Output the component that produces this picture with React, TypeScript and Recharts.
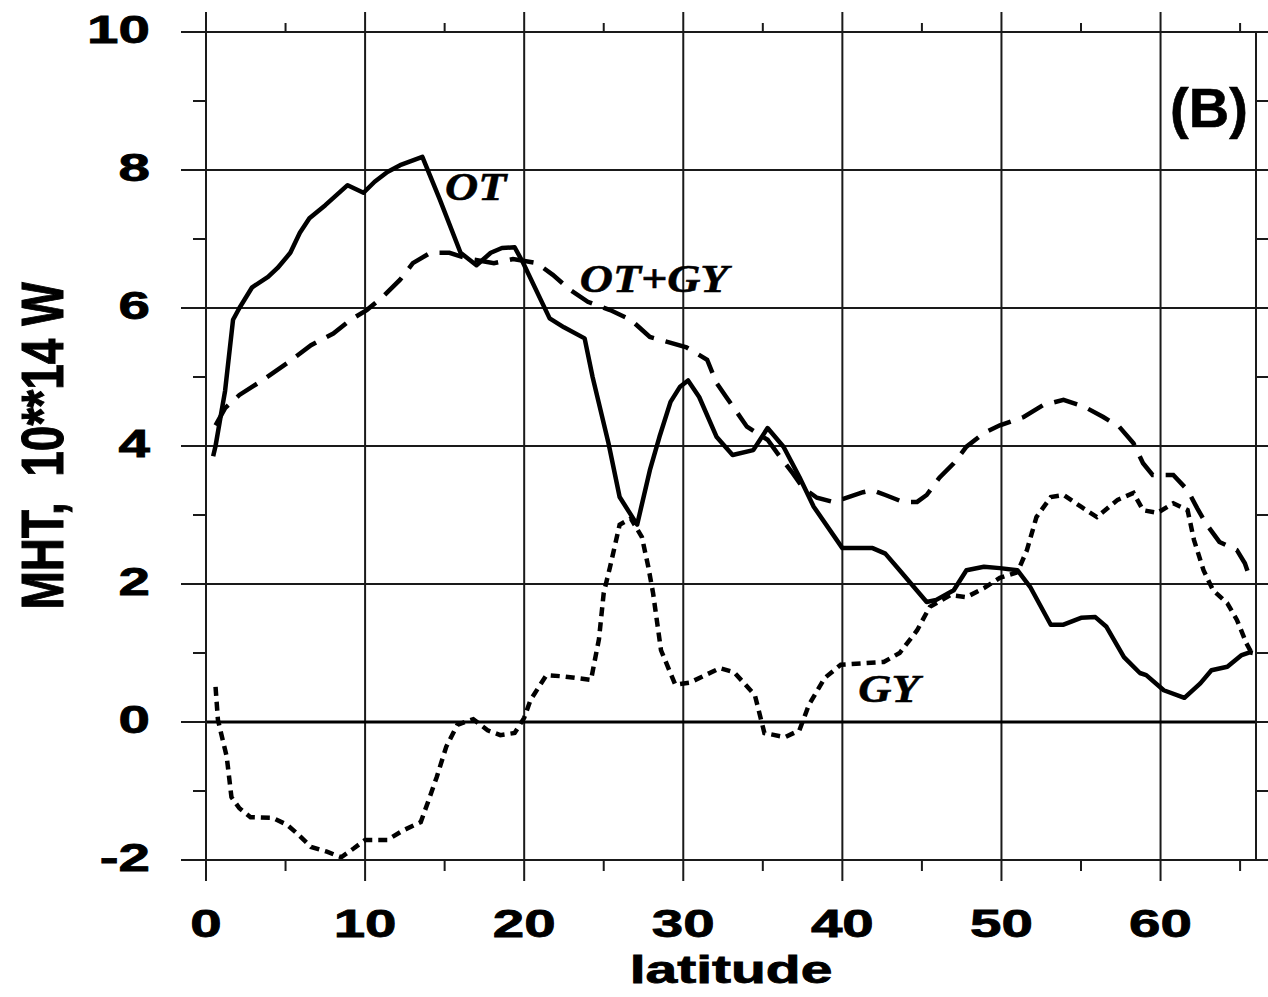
import React from "react";
import { LineChart, Line, XAxis, YAxis, ReferenceLine, ReferenceDot } from "recharts";

// latitude / MHT pairs
const OT_LAT = [0.45, 0.6, 0.9, 1.2, 1.7, 2.1, 2.9, 3.9, 4.5, 5.3, 5.9, 6.5, 7.5, 8.9, 9.9, 10.6, 11.4, 12.2, 13.6, 14.7, 16.0, 17.0, 17.9, 18.6, 19.4, 19.9, 21.6, 22.5, 23.8, 24.3, 25.3, 26.0, 27.1, 27.9, 28.5, 29.2, 29.8, 30.3, 31.0, 32.1, 33.1, 34.4, 35.3, 36.3, 37.3, 38.2, 40.0, 41.9, 42.7, 43.6, 45.3, 45.9, 47.0, 47.8, 48.9, 49.9, 51.0, 51.8, 53.1, 53.9, 55.0, 55.9, 56.6, 57.7, 58.7, 59.1, 60.2, 61.5, 62.5, 63.2, 64.2, 65.1, 65.6, 65.8];
const OT_MHT = [3.85, 4.0, 4.4, 4.8, 5.83, 6.0, 6.3, 6.45, 6.58, 6.8, 7.09, 7.3, 7.49, 7.78, 7.67, 7.83, 7.97, 8.07, 8.19, 7.57, 6.8, 6.62, 6.8, 6.87, 6.88, 6.67, 5.85, 5.72, 5.56, 5.0, 4.04, 3.26, 2.86, 3.65, 4.13, 4.64, 4.86, 4.95, 4.71, 4.13, 3.87, 3.94, 4.26, 3.99, 3.55, 3.12, 2.52, 2.52, 2.44, 2.2, 1.74, 1.77, 1.91, 2.2, 2.25, 2.23, 2.2, 1.96, 1.41, 1.41, 1.51, 1.52, 1.38, 0.94, 0.71, 0.68, 0.46, 0.35, 0.56, 0.75, 0.8, 0.97, 1.01, 1.0];

const SUM_LAT = [0.6, 1.2, 2.1, 3.4, 5.1, 6.6, 8.0, 9.1, 10.1, 11.1, 12.2, 13.0, 14.1, 15.3, 16.4, 18.1, 19.3, 20.8, 21.8, 22.9, 24.0, 25.4, 26.7, 27.9, 29.0, 30.2, 31.5, 32.1, 32.7, 33.4, 34.0, 35.3, 35.9, 36.9, 37.5, 38.4, 39.4, 40.0, 41.3, 41.9, 42.7, 43.8, 44.7, 45.3, 46.1, 47.0, 47.8, 48.9, 49.9, 51.4, 52.6, 53.9, 55.2, 56.4, 57.4, 58.3, 58.9, 59.5, 60.8, 61.7, 62.3, 62.9, 63.7, 64.8, 65.3, 65.7];
const SUM_MHT = [4.3, 4.55, 4.74, 4.93, 5.2, 5.46, 5.63, 5.83, 5.97, 6.16, 6.41, 6.65, 6.8, 6.8, 6.72, 6.65, 6.71, 6.65, 6.48, 6.26, 6.09, 5.97, 5.83, 5.58, 5.51, 5.43, 5.25, 4.91, 4.71, 4.48, 4.28, 4.09, 3.9, 3.6, 3.4, 3.25, 3.19, 3.23, 3.33, 3.36, 3.29, 3.19, 3.19, 3.29, 3.54, 3.75, 3.99, 4.19, 4.3, 4.42, 4.59, 4.67, 4.57, 4.42, 4.28, 4.04, 3.75, 3.58, 3.58, 3.36, 3.1, 2.86, 2.61, 2.49, 2.3, 2.03];

const GY_LAT = [0.6, 0.75, 1.3, 1.6, 2.1, 2.8, 4.2, 5.1, 5.7, 6.6, 7.6, 8.5, 9.3, 10.0, 11.4, 12.4, 13.5, 14.0, 14.5, 15.1, 15.8, 16.8, 17.7, 18.5, 19.4, 20.0, 20.4, 21.4, 22.5, 24.2, 24.7, 25.0, 25.4, 26.0, 26.7, 27.4, 27.8, 28.1, 28.6, 29.5, 30.4, 32.3, 33.2, 34.5, 35.1, 36.4, 37.3, 37.9, 38.9, 39.9, 42.6, 43.6, 44.7, 45.5, 46.8, 47.8, 48.9, 49.9, 51.0, 51.6, 52.2, 53.1, 53.9, 55.0, 56.0, 57.3, 58.3, 58.9, 59.8, 60.8, 61.7, 62.1, 62.7, 63.3, 64.2, 64.8, 65.4, 65.7];
const GY_MHT = [0.51, 0.03, -0.5, -1.09, -1.25, -1.38, -1.39, -1.49, -1.61, -1.81, -1.88, -1.96, -1.83, -1.71, -1.71, -1.57, -1.45, -1.13, -0.8, -0.36, -0.04, 0.04, -0.12, -0.19, -0.16, 0.06, 0.32, 0.68, 0.66, 0.61, 1.2, 1.87, 2.25, 2.86, 2.95, 2.68, 2.25, 1.87, 1.04, 0.54, 0.57, 0.78, 0.72, 0.39, -0.16, -0.22, -0.12, 0.25, 0.64, 0.83, 0.87, 1.0, 1.33, 1.67, 1.84, 1.81, 1.94, 2.09, 2.17, 2.49, 2.97, 3.26, 3.29, 3.12, 2.97, 3.22, 3.32, 3.07, 3.03, 3.17, 3.07, 2.64, 2.2, 1.91, 1.72, 1.48, 1.14, 1.01];

const X_TICKS = [0, 5, 10, 15, 20, 25, 30, 35, 40, 45, 50, 55, 60, 65];
const Y_TICKS = [-2, -1, 0, 1, 2, 3, 4, 5, 6, 7, 8, 9, 10];
const X_GRID = [10, 20, 30, 40, 50, 60];
const Y_GRID = [2, 4, 6, 8];

const toPoints = (lat: number[], mht: number[]) => lat.map((l, i) => ({ lat: l, v: mht[i] }));
const otData = toPoints(OT_LAT, OT_MHT);
const sumData = toPoints(SUM_LAT, SUM_MHT);
const gyData = toPoints(GY_LAT, GY_MHT);

const INK = "#1a1a1a";
const SANS = "'Liberation Sans', Arial, sans-serif";
const SERIF = "'Liberation Serif', 'Times New Roman', serif";
const STRETCH = 1.45;

const BottomTick = ({ x, y, payload }: any) => {
    const major = payload.value % 10 === 0;
    return (
        <g>
            <line x1={x} x2={x} y1={y} y2={y + (major ? 21 : 11)} stroke={INK} strokeWidth={2} />
            {major && (
                <text transform={`translate(${x},${y + 77}) scale(${STRETCH},1)`} textAnchor="middle"
                    fontFamily={SANS} fontWeight="bold" fontSize={39} fill="#000" stroke="#000" strokeWidth={0.8}>
                    {payload.value}
                </text>
            )}
        </g>
    );
};

const TopTick = ({ x, y, payload }: any) => {
    const major = payload.value % 10 === 0;
    return <line x1={x} x2={x} y1={y} y2={y - (major ? 20 : 9)} stroke={INK} strokeWidth={2} />;
};

const LeftTick = ({ x, y, payload }: any) => {
    const major = payload.value % 2 === 0;
    return (
        <g>
            <line x1={x} x2={x - (major ? 25 : 13)} y1={y} y2={y} stroke={INK} strokeWidth={2} />
            {major && (
                <text transform={`translate(${x - 56},${y + 11}) scale(${STRETCH},1)`} textAnchor="end"
                    fontFamily={SANS} fontWeight="bold" fontSize={39} fill="#000" stroke="#000" strokeWidth={0.8}>
                    {payload.value}
                </text>
            )}
        </g>
    );
};

const RightTick = ({ x, y }: any) => (
    <line x1={x} x2={x + 12} y1={y} y2={y} stroke={INK} strokeWidth={2} />
);

const XTitle = ({ viewBox }: any) => (
    <text transform={`translate(${viewBox.x + viewBox.width / 2},${viewBox.y + 123}) scale(1.5,1)`}
        textAnchor="middle" fontFamily={SANS} fontWeight="bold" fontSize={38} fill="#000"
        stroke="#000" strokeWidth={0.8}>
        latitude
    </text>
);

const YTitle = ({ viewBox }: any) => (
    <text transform={`translate(63,${viewBox.y + viewBox.height / 2}) scale(1.3,1) rotate(-90)`}
        textAnchor="middle" fontFamily={SANS} fontWeight="bold" fontSize={46} fill="#000"
        stroke="#000" strokeWidth={0.8} style={{ whiteSpace: "pre" }}>
        {"MHT,  10**14 W"}
    </text>
);

const Note = ({ viewBox, text, serif = true, size = 41, sx = 1.12 }: any) => (
    <text transform={`translate(${viewBox.x + viewBox.width / 2},${viewBox.y + viewBox.height / 2}) scale(${sx},1)`}
        fontFamily={serif ? SERIF : SANS} fontStyle={serif ? "italic" : "normal"} fontWeight="bold"
        fontSize={size} fill="#000" stroke="#000" strokeWidth={0.6}>
        {text}
    </text>
);

export default function App() {
    return (
        <div style={{ position: "absolute", left: 0, top: 0, background: "#fff" }}>
            <LineChart width={1268} height={997} margin={{ top: 0, right: 0, bottom: 0, left: 0 }}>
                <XAxis xAxisId={0} dataKey="lat" type="number" domain={[0, 66]} allowDataOverflow
                    ticks={X_TICKS} interval={0} height={137} tickSize={0} tickMargin={0} tickLine={false}
                    axisLine={{ stroke: INK, strokeWidth: 2 }} tick={<BottomTick />} label={<XTitle />} />
                <XAxis xAxisId="top" orientation="top" dataKey="lat" type="number" domain={[0, 66]} allowDataOverflow
                    ticks={X_TICKS} interval={0} height={32} tickSize={0} tickMargin={0} tickLine={false}
                    axisLine={{ stroke: INK, strokeWidth: 2 }} tick={<TopTick />} />
                <YAxis yAxisId={0} type="number" domain={[-2, 10]} allowDataOverflow
                    ticks={Y_TICKS} interval={0} width={206} tickSize={0} tickMargin={0} tickLine={false}
                    axisLine={{ stroke: INK, strokeWidth: 2 }} tick={<LeftTick />} label={<YTitle />} />
                <YAxis yAxisId="right" orientation="right" type="number" domain={[-2, 10]} allowDataOverflow
                    ticks={Y_TICKS} interval={0} width={12} tickSize={0} tickMargin={0} tickLine={false}
                    axisLine={{ stroke: INK, strokeWidth: 2 }} tick={<RightTick />} />

                {X_GRID.map((g) => (
                    <ReferenceLine key={`x${g}`} x={g} stroke={INK} strokeWidth={2} />
                ))}
                {Y_GRID.map((g) => (
                    <ReferenceLine key={`y${g}`} y={g} stroke={INK} strokeWidth={2} />
                ))}
                <ReferenceLine y={0} stroke="#000" strokeWidth={3} />

                <Line data={otData} dataKey="v" type="linear" stroke="#000" strokeWidth={4.5}
                    dot={false} activeDot={false} strokeLinejoin="round" isAnimationActive={false} />
                <Line data={sumData} dataKey="v" type="linear" stroke="#000" strokeWidth={4.5}
                    strokeDasharray="24 12" dot={false} activeDot={false} isAnimationActive={false} />
                <Line data={gyData} dataKey="v" type="linear" stroke="#000" strokeWidth={4.5}
                    strokeDasharray="9 6" dot={false} activeDot={false} isAnimationActive={false} />

                <ReferenceDot x={15.03} y={7.57} r={0} fill="none" stroke="none" label={<Note text="OT" />} />
                <ReferenceDot x={23.5} y={6.23} r={0} fill="none" stroke="none" label={<Note text="OT+GY" />} />
                <ReferenceDot x={41.0} y={0.29} r={0} fill="none" stroke="none" label={<Note text="GY" />} />
                <ReferenceDot x={60.6} y={8.62} r={0} fill="none" stroke="none"
                    label={<Note text="(B)" serif={false} size={56} sx={1} />} />
            </LineChart>
        </div>
    );
}
